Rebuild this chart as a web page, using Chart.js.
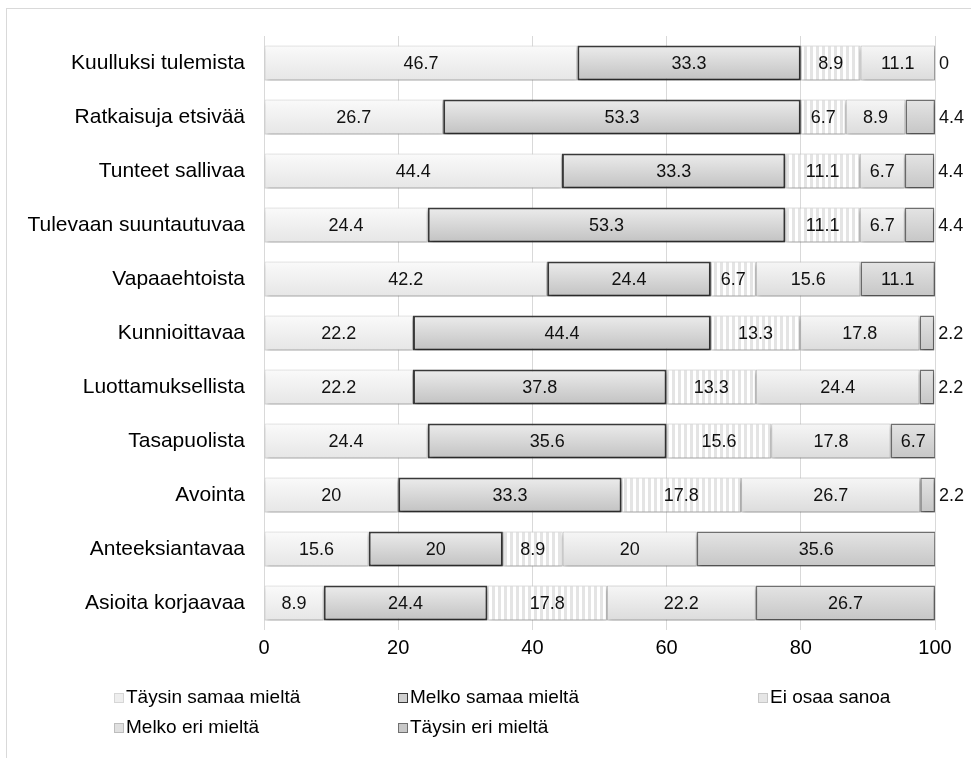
<!DOCTYPE html>
<html>
<head>
<meta charset="utf-8">
<script src="https://cdn.jsdelivr.net/npm/chart.js@4/dist/chart.umd.min.js"></script>
<style>
  html, body { margin: 0; padding: 0; background: #fff; }
  #wrap { position: relative; width: 971px; height: 758px; overflow: hidden; }
  #frame { position: absolute; left: 6px; top: 8px; width: 1000px; height: 800px;
           border-left: 1px solid #d9d9d9; border-top: 1px solid #d9d9d9; }
  canvas { position: absolute; left: 0; top: 0; }
  .leg { position: absolute; font: 19px "Liberation Sans", Arial, sans-serif; color: #000;
         white-space: nowrap; line-height: 20px; }
  .leg i { display: inline-block; width: 10px; height: 10px; margin-right: 2px;
           vertical-align: 0px; box-sizing: border-box; }
</style>
</head>
<body>
<div id="wrap">
  <div id="frame"></div>
  <canvas id="kuvio" width="971" height="758"></canvas>
  <div id="legend"></div>
</div>
<script>
(function () {
  const canvas = document.getElementById('kuvio');
  if (!canvas || typeof Chart === 'undefined') return;

  /* Väittämät ylhäältä alas */
  const labels = [
    'Kuulluksi tulemista', 'Ratkaisuja etsivää', 'Tunteet sallivaa',
    'Tulevaan suuntautuvaa', 'Vapaaehtoista', 'Kunnioittavaa',
    'Luottamuksellista', 'Tasapuolista', 'Avointa',
    'Anteeksiantavaa', 'Asioita korjaavaa'
  ];

  /* Osuudet prosentteina */
  const taysinSamaa = [46.7, 26.7, 44.4, 24.4, 42.2, 22.2, 22.2, 24.4, 20, 15.6, 8.9];
  const melkoSamaa  = [33.3, 53.3, 33.3, 53.3, 24.4, 44.4, 37.8, 35.6, 33.3, 20, 24.4];
  const eiOsaa      = [8.9, 6.7, 11.1, 11.1, 6.7, 13.3, 13.3, 15.6, 17.8, 8.9, 17.8];
  const melkoEri    = [11.1, 8.9, 6.7, 6.7, 15.6, 17.8, 24.4, 17.8, 26.7, 20, 22.2];
  const taysinEri   = [0, 4.4, 4.4, 4.4, 11.1, 2.2, 2.2, 6.7, 2.2, 35.6, 26.7];

  const xTicks = [0, 20, 40, 60, 80, 100];

  const FONT = '"Liberation Sans", Arial, sans-serif';
  const BAR_PCT = 0.65;

  /* pystyraidat "Ei osaa sanoa" -sarjaan */
  const stripeCanvas = document.createElement('canvas');
  stripeCanvas.width = 6; stripeCanvas.height = 4;
  const sc = stripeCanvas.getContext('2d');
  sc.fillStyle = '#ffffff'; sc.fillRect(0, 0, 6, 4);
  sc.fillStyle = '#e4e4e4'; sc.fillRect(0, 0, 3, 4);
  const stripes = sc.createPattern(stripeCanvas, 'repeat');

  // pystysuuntainen liukuväri palkin kohdalle
  function grad(top, bottom, fallback) {
    return (ctx) => {
      const chart = ctx.chart;
      const y = chart.scales && chart.scales.y;
      if (!chart.chartArea || !y || ctx.dataIndex === undefined) return fallback;
      const c = y.getPixelForValue(ctx.dataIndex);
      const h = (y.height / labels.length) * BAR_PCT / 2;
      const g = chart.ctx.createLinearGradient(0, c - h, 0, c + h);
      g.addColorStop(0, top);
      g.addColorStop(1, bottom);
      return g;
    };
  }

  const series = [
    { label: 'Täysin samaa mieltä', data: taysinSamaa, bg: grad('#fafafa', '#e6e6e6', '#f0f0f0'), border: '#d6d6d6', bw: 1, sw: '#eeeeee' },
    { label: 'Melko samaa mieltä',  data: melkoSamaa,  bg: grad('#ececec', '#c2c2c2', '#d6d6d6'), border: '#3a3a3a', bw: 2, sw: '#d0d0d0' },
    { label: 'Ei osaa sanoa',       data: eiOsaa,      bg: stripes,                               border: '#c8c8c8', bw: 1, sw: '#e6e6e6' },
    { label: 'Melko eri mieltä',    data: melkoEri,    bg: grad('#f6f6f6', '#dcdcdc', '#ebebeb'), border: '#bdbdbd', bw: 1, sw: '#e0e0e0' },
    { label: 'Täysin eri mieltä',   data: taysinEri,   bg: grad('#e4e4e4', '#c6c6c6', '#d6d6d6'), border: '#707070', bw: 1.5, sw: '#c8c8c8' }
  ];

  const barLook = {
    id: 'barLook',
    beforeDatasetsDraw(chart) {
      const c = chart.ctx;
      c.save();
      c.shadowColor = 'rgba(0,0,0,0.3)';
      c.shadowBlur = 4;
      c.shadowOffsetX = 1;
      c.shadowOffsetY = 3;
    },
    afterDatasetsDraw(chart) {
      const c = chart.ctx;
      c.restore();
      c.save();
      c.font = '18px ' + FONT;
      c.fillStyle = '#111';
      c.textBaseline = 'middle';
      chart.data.datasets.forEach((ds, di) => {
        const meta = chart.getDatasetMeta(di);
        meta.data.forEach((bar, i) => {
          const v = ds.data[i];
          const w = Math.abs(bar.x - bar.base);
          const txt = String(v);
          if (w < 34 && di === chart.data.datasets.length - 1) {
            c.textAlign = 'left';
            c.fillText(txt, Math.max(bar.x, bar.base) + 4, bar.y + 1);
          } else {
            c.textAlign = 'center';
            c.fillText(txt, (bar.x + bar.base) / 2, bar.y + 1);
          }
        });
      });
      c.restore();
    }
  };

  new Chart(canvas, {
    type: 'bar',
    data: {
      labels,
      datasets: series.map(s => ({
        label: s.label,
        data: s.data,
        backgroundColor: s.bg,
        borderColor: s.border,
        borderWidth: s.bw,
        borderSkipped: false,
        barPercentage: BAR_PCT,
        categoryPercentage: 1
      }))
    },
    options: {
      indexAxis: 'y',
      responsive: false,
      animation: false,
      layout: { padding: { top: 36, right: 36, bottom: 88, left: 0 } },
      plugins: {
        legend: { display: false },
        tooltip: { enabled: false }
      },
      scales: {
        x: {
          stacked: true,
          min: 0,
          max: 100,
          afterBuildTicks: (s) => { s.ticks = xTicks.map(v => ({ value: v })); },
          afterFit: (s) => { s.height = 40; },
          grid: { color: '#d9d9d9', drawTicks: false },
          border: { display: false },
          ticks: { color: '#000', font: { size: 20, family: FONT }, padding: 6 }
        },
        y: {
          stacked: true,
          afterFit: (s) => { s.width = 264; },
          grid: { display: false, drawTicks: false },
          border: { display: false },
          ticks: { color: '#000', font: { size: 21, family: FONT }, padding: 19 }
        }
      }
    },
    plugins: [barLook]
  });

  /* selite kahdelle riville, sarakkeet tasattuina */
  const legendPos = [
    [114, 687], [398, 687], [758, 687],
    [114, 717], [398, 717]
  ];
  const box = document.getElementById('legend');
  series.forEach((s, i) => {
    const d = document.createElement('div');
    d.className = 'leg';
    d.style.left = legendPos[i][0] + 'px';
    d.style.top = legendPos[i][1] + 'px';
    const sw = document.createElement('i');
    sw.style.background = s.sw;
    sw.style.border = '1px solid ' + s.border;
    d.appendChild(sw);
    d.appendChild(document.createTextNode(s.label));
    box.appendChild(d);
  });
})();
</script>
</body>
</html>
